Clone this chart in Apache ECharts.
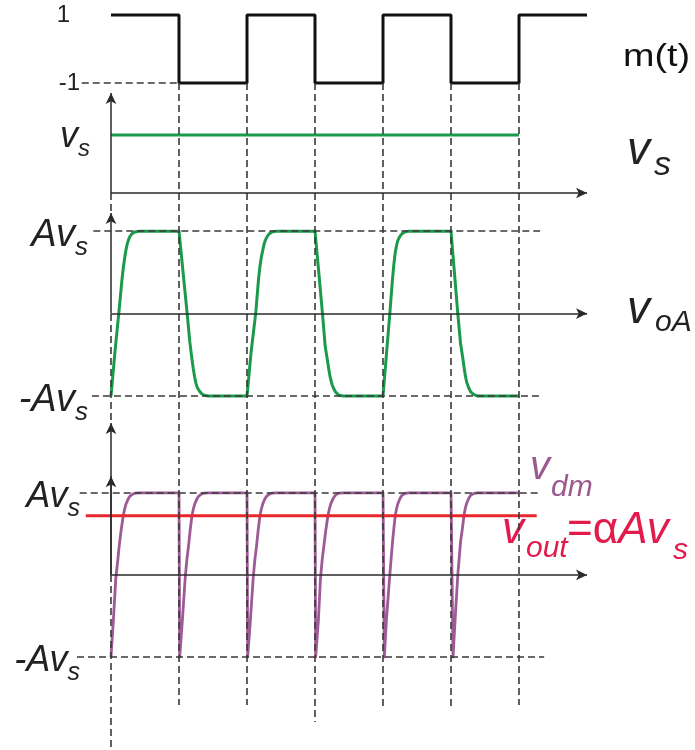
<!DOCTYPE html>
<html><head><meta charset="utf-8">
<script src="https://cdn.jsdelivr.net/npm/echarts@6/dist/echarts.min.js"></script>
<style>html,body{margin:0;padding:0;background:#fff}#c{width:695px;height:750px}</style>
</head><body><div id="c"></div>
<script>
// time unit = half period of m(t)
const mT = [0, 1, 2, 3, 4, 5, 6, 7];
const mV = [1, -1, 1, -1, 1, -1, 1, 1];

const vsT = [0, 6];
const vsV = [0.58, 0.58];

const voaT = [0,0.06,0.12,0.16,0.18,0.2,0.22,0.24,0.26,0.28,0.31,0.35,0.42,
  1,1.06,1.12,1.16,1.19,1.21,1.23,1.25,1.27,1.3,1.33,1.37,1.43,
  2,2.06,2.13,2.17,2.19,2.21,2.23,2.25,2.27,2.3,2.33,2.37,2.44,
  3,3.05,3.11,3.15,3.18,3.2,3.22,3.25,3.28,3.31,3.35,3.42,
  4,4.05,4.1,4.14,4.16,4.18,4.2,4.22,4.25,4.28,4.32,4.38,
  5,5.05,5.1,5.14,5.17,5.19,5.21,5.23,5.26,5.29,5.33,5.39, 6];
const voaV = [-1,-0.45,0.05,0.4,0.55,0.67,0.77,0.85,0.9,0.94,0.97,0.99,1,
  1,0.5,0,-0.35,-0.55,-0.67,-0.77,-0.85,-0.9,-0.94,-0.97,-0.99,-1,
  -1,-0.47,0.02,0.42,0.57,0.68,0.76,0.84,0.89,0.94,0.97,0.99,1,
  1,0.55,0,-0.4,-0.55,-0.66,-0.76,-0.86,-0.92,-0.96,-0.99,-1,
  -1,-0.5,0,0.42,0.6,0.74,0.83,0.89,0.94,0.97,0.99,1,
  1,0.5,0,-0.36,-0.52,-0.64,-0.75,-0.83,-0.9,-0.95,-0.98,-1, -1];

const vdmT = [0,0.035,0.07,0.1,0.12,0.15,0.18,0.2,0.22,0.25,0.28,0.32,0.36,0.42,
  1,1.01,1.05,1.09,1.115,1.14,1.165,1.19,1.21,1.23,1.26,1.29,1.33,1.37,1.43,
  2,2.01,2.05,2.09,2.115,2.14,2.165,2.19,2.21,2.23,2.26,2.29,2.33,2.37,2.43,
  3,3.01,3.05,3.08,3.105,3.13,3.16,3.19,3.21,3.23,3.26,3.29,3.32,3.36,3.42,
  4,4.02,4.05,4.1,4.12,4.14,4.16,4.18,4.2,4.22,4.25,4.28,4.32,4.37,
  5,5.03,5.06,5.1,5.12,5.14,5.17,5.19,5.21,5.23,5.26,5.29,5.33,5.38, 6];
const vdmV = [-1,-0.55,-0.05,0.18,0.35,0.55,0.72,0.8,0.86,0.92,0.96,0.985,0.995,1,
  1,-1,-0.55,-0.05,0.18,0.35,0.55,0.72,0.8,0.86,0.92,0.96,0.985,0.995,1,
  1,-1,-0.55,-0.05,0.18,0.35,0.55,0.72,0.8,0.86,0.92,0.96,0.985,0.995,1,
  1,-1,-0.55,-0.05,0.18,0.35,0.55,0.72,0.8,0.86,0.92,0.96,0.985,0.995,1,
  1,-1,-0.55,0,0.2,0.4,0.57,0.72,0.81,0.87,0.93,0.97,0.99,1,
  1,-1,-0.55,0,0.2,0.4,0.58,0.72,0.81,0.87,0.93,0.97,0.99,1, 1];

const voutT = [-0.37, 6.26];
const voutV = [0.72, 0.72];

// switching instants of m(t) and guide extents (guide grid units)
const switchT = [1, 2, 3, 4, 5, 6];
const guideEnd = [705, 705, 722, 710, 710, 705];

const zip = (a, b) => a.map((x, i) => [x, b[i]]);
const FONT = '"Liberation Sans", Arial, sans-serif';
const INK = '#222';
const DASH = {color: '#3a3a3a', width: 1.6, type: [7, 4]};
const AX = {color: '#2a2a2a', width: 1.5, type: 'solid'};

function seg(x1, y1, x2, y2, style, arrow) {
  return [{coord: [x1, y1], lineStyle: style, symbol: 'none'},
          {coord: [x2, y2], symbol: arrow ? 'arrow' : 'none'}];
}
function mk(data) {
  return {silent: true, animation: false, symbolSize: [8, 11], label: {show: false},
    emphasis: {disabled: true}, data: data};
}
function richLabel(big, small, pad) {
  return {
    m: {fontFamily: FONT, fontStyle: 'italic', fontSize: big, lineHeight: big, verticalAlign: 'top', color: INK},
    s: {fontFamily: FONT, fontStyle: 'italic', fontSize: small, lineHeight: small, verticalAlign: 'top', color: INK, padding: [pad, 0, 0, 0]}
  };
}

const XMIN = -1.5, XMAX = 7;
const grids = [
  {left: 9, width: 578, top: 15, height: 68},
  {left: 9, width: 578, top: 93, height: 100},
  {left: 9, width: 578, top: 213, height: 183},
  {left: 9, width: 578, top: 423, height: 234},
  {left: 9, width: 578, top: 0, height: 750}
];
const xAxes = grids.map((g, i) => ({gridIndex: i, type: 'value', min: XMIN, max: XMAX, show: false}));
const hid = {axisLine: {show: false}, axisTick: {show: false}, splitLine: {show: false}, offset: -102};
const yAxes = [
  Object.assign({gridIndex: 0, type: 'value', min: -1, max: 1,
    axisLabel: {customValues: [1, -1], margin: 31, fontFamily: FONT, fontSize: 24, color: INK,
      formatter: v => v > 0 ? '{p|1}' : '-1', rich: {p: {fontFamily: FONT, fontSize: 24, color: INK, padding: [0, 10, 0, 0]}}}}, hid),
  Object.assign({gridIndex: 1, type: 'value', min: 0, max: 1,
    axisLabel: {customValues: [0.58], margin: 21, padding: [4, 0, 0, 0],
      formatter: () => '{m|v}{s|s}', rich: richLabel(36, 24, 18)}}, hid),
  Object.assign({gridIndex: 2, type: 'value', min: -1, max: 1.22,
    axisLabel: {customValues: [1, -1], margin: 23, padding: [8, 0, 0, 0],
      formatter: v => v > 0 ? '{m|Av}{s|s}' : '{m|-Av}{s|s}', rich: richLabel(38, 26, 19)}}, hid),
  Object.assign({gridIndex: 3, type: 'value', min: -1, max: 1.85,
    axisLabel: {customValues: [1, -1], margin: 31, padding: [8, 0, 0, 0],
      formatter: v => v > 0 ? '{m|Av}{s|s}' : '{m|-Av}{s|s}', rich: richLabel(36, 25, 18)}}, hid),
  Object.assign({gridIndex: 4, type: 'value', min: 0, max: 750, inverse: true, show: false}, hid)
];

const GREEN = '#1b9a4b', PURPLE = '#9d5b95', RED = '#e8262b';
const base = {type: 'line', symbol: 'none', animation: false, clip: false, silent: true, z: 3};

const guideLines = [
  seg(0, 193, 0, 213, DASH), seg(0, 314, 0, 423, DASH), seg(0, 575, 0, 750, DASH)
].concat(switchT.map((t, i) => seg(t, 83, t, guideEnd[i], DASH)));

const series = [
  Object.assign({}, base, {name: 'guides', xAxisIndex: 4, yAxisIndex: 4, data: [], z: 1, markLine: mk(guideLines)}),
  Object.assign({}, base, {name: 'm(t)', xAxisIndex: 0, yAxisIndex: 0, step: 'end',
    data: zip(mT, mV), lineStyle: {color: '#111', width: 3},
    markLine: mk([seg(-0.43, -1, 1, -1, DASH)])}),
  Object.assign({}, base, {name: 'vs', xAxisIndex: 1, yAxisIndex: 1,
    data: zip(vsT, vsV), lineStyle: {color: GREEN, width: 3},
    markLine: mk([seg(0, 0, 0, 1, AX, true), seg(0, 0, 7, 0, AX, true)])}),
  Object.assign({}, base, {name: 'voA', xAxisIndex: 2, yAxisIndex: 2,
    data: zip(voaT, voaV), lineStyle: {color: GREEN, width: 3, join: 'round'},
    markLine: mk([seg(0, 0, 0, 1.22, AX, true), seg(0, 0, 7, 0, AX, true),
      seg(-0.26, 1, 6.31, 1, DASH), seg(-0.28, -1, 6.35, -1, DASH)])}),
  Object.assign({}, base, {name: 'vdm', xAxisIndex: 3, yAxisIndex: 3,
    data: zip(vdmT, vdmV), lineStyle: {color: PURPLE, width: 2.8, join: 'round'},
    markLine: mk([seg(0, 0, 0, 1.85, AX, true), seg(0, 0, 0, 1.2, AX, true), seg(0, 0, 7, 0, AX, true),
      seg(-0.46, 1, 6.31, 1, DASH), seg(-0.5, -1, 6.37, -1, DASH)])}),
  Object.assign({}, base, {name: 'vout', xAxisIndex: 3, yAxisIndex: 3, z: 4,
    data: zip(voutT, voutV), lineStyle: {color: RED, width: 3}})
];

function txt(x, y, text, size, color, italic, extra) {
  return Object.assign({type: 'text', x: x, y: y, silent: true,
    style: {text: text, fill: color, font: (italic ? 'italic ' : '') + size + 'px ' + FONT, verticalAlign: 'middle'}}, extra || {});
}
const CRIMSON = '#e31b4c', PLUM = '#9a5a8f';
const graphic = [
  txt(623, 57, 'm(t)', 32, '#111', false, {scaleX: 1.18}),
  txt(627, 151, 'v', 46, INK, true), txt(654, 166, 's', 34, INK, true),
  txt(627, 310, 'v', 46, INK, true), txt(655, 323, 'oA', 30, INK, true),
  txt(530, 468, 'v', 40, PLUM, true), txt(551, 488, 'dm', 30, PLUM, true),
  txt(502, 531, 'v', 44, CRIMSON, true), txt(526, 549, 'out', 30, CRIMSON, true),
  {type: 'text', x: 567, y: 531, silent: true, style: {text: '{n|=α}{i|Av}', verticalAlign: 'middle', fill: CRIMSON,
    rich: {n: {fontFamily: FONT, fontSize: 44, lineHeight: 44, fill: CRIMSON, color: CRIMSON},
           i: {fontFamily: FONT, fontStyle: 'italic', fontSize: 44, lineHeight: 44, fill: CRIMSON, color: CRIMSON}}}},
  txt(673, 551, 's', 30, CRIMSON, true)
];

const chart = echarts.init(document.getElementById('c'), null, {renderer: 'canvas'});
chart.setOption({
  backgroundColor: '#fff', animation: false,
  grid: grids, xAxis: xAxes, yAxis: yAxes, series: series, graphic: graphic
});
</script>
</body></html>
